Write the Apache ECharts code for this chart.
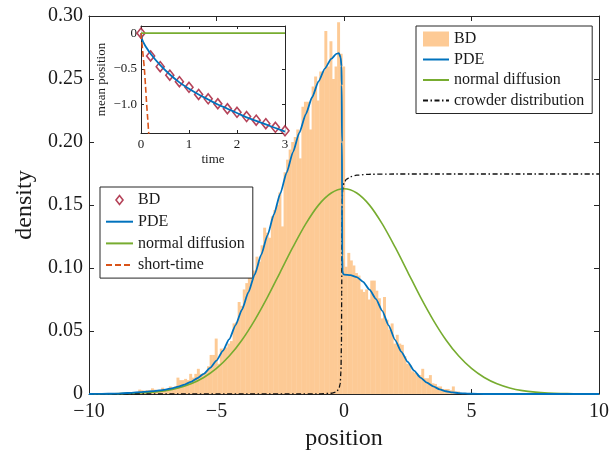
<!DOCTYPE html>
<html><head><meta charset="utf-8">
<script src="https://cdn.jsdelivr.net/npm/echarts@6/dist/echarts.min.js"></script>
<style>html,body{margin:0;padding:0;background:#fff}#c{width:612px;height:459px}</style>
</head><body><div id="c"></div>
<script>
// ---------- DATA ----------
const histStart = -8.17;   // left edge of first bin
const binWidth = 0.1;
const histHeights = [
  0.001,0.0035,0.003,0.0025,0.003,0.003,0.0045,0.0035,0.002,0.003,
  0.005,0.004,0.004,0.006,0.005,0.006,0.013,0.011,0.011,0.012,
  0.011,0.016,0.013,0.016,0.020,0.016,0.016,0.017,0.022,0.031,
  0.031,0.044,0.024,0.036,0.036,0.037,0.040,0.042,0.056,0.057,
  0.073,0.070,0.083,0.088,0.093,0.096,0.098,0.109,0.105,0.118,
  0.132,0.128,0.124,0.141,0.146,0.150,0.160,0.133,0.176,0.186,
  0.194,0.200,0.204,0.210,0.187,0.228,0.232,0.232,0.210,0.244,
  0.252,0.233,0.256,0.256,0.288,0.260,0.280,0.250,0.260,0.295,
  0.270,0.260,
  0.101,0.112,0.106,0.102,0.096,0.094,0.083,0.081,0.083,0.075,
  0.090,0.090,0.082,0.076,0.060,0.077,0.059,0.051,0.056,0.040,
  0.047,0.040,0.039,0.030,0.024,0.023,0.018,0.017,0.015,0.015,
  0.020,0.0125,0.0125,0.015,0.0085,0.008,0.006,0.006,0.004,0.004,
  0.004,0.003,0.006,0.002,0.002
];

const pdeX = [-10,-9.5,-9,-8.5,-8,-7.75,-7.5,-7.25,-7,-6.75,-6.5,-6.25,-6,-5.75,-5.5,-5.25,-5,-4.75,-4.5,-4.25,-4,-3.75,-3.5,-3.25,-3,-2.75,-2.5,-2.25,-2,-1.75,-1.5,-1.25,-1,-0.75,-0.5,-0.3,-0.2,-0.13,-0.1,-0.09,-0.08,-0.075,-0.07,-0.06,-0.04,0,0.25,0.5,0.75,1,1.25,1.5,1.75,2,2.25,2.5,2.75,3,3.25,3.5,3.75,4,4.25,4.5,5,5.5,10];
const pdeY = [0,0.0001,0.0003,0.0008,0.0015,0.0019,0.0023,0.0028,0.0035,0.0045,0.0058,0.0075,0.0097,0.0125,0.016,0.0207,0.0265,0.0343,0.0435,0.0547,0.067,0.0807,0.095,0.1103,0.126,0.1425,0.159,0.1757,0.192,0.2075,0.222,0.2355,0.248,0.2583,0.266,0.270,0.2705,0.267,0.260,0.245,0.200,0.150,0.110,0.098,0.0955,0.0948,0.0943,0.0928,0.089,0.0828,0.0755,0.066,0.0545,0.043,0.0335,0.0255,0.0185,0.013,0.009,0.006,0.0037,0.0022,0.0013,0.0007,0.0002,0,0];

const normX = [-10,-9.5,-9,-8.5,-8,-7.5,-7,-6.5,-6,-5.5,-5,-4.5,-4,-3.5,-3,-2.5,-2,-1.5,-1,-0.5,0,0.5,1,1.5,2,2.5,3,3.5,4,4.5,5,5.5,6,6.5,7,7.5,8,8.5,9,9.5,10];
const normY = [0,0.0001,0.0002,0.0004,0.0008,0.0015,0.0027,0.0048,0.0081,0.0131,0.0203,0.0301,0.0429,0.0587,0.0769,0.0968,0.1167,0.1350,0.1499,0.1595,0.1629,0.1595,0.1499,0.1350,0.1167,0.0968,0.0769,0.0587,0.0429,0.0301,0.0203,0.0131,0.0081,0.0048,0.0027,0.0015,0.0008,0.0004,0.0002,0.0001,0];

const crowdX = [-10,-1,-0.5,-0.3,-0.2,-0.15,-0.12,-0.1,-0.09,-0.08,-0.07,-0.05,0,0.1,0.25,0.5,1,2,10];
const crowdY = [0,0,0.0006,0.0015,0.004,0.008,0.018,0.04,0.08,0.13,0.155,0.163,0.1675,0.1705,0.1725,0.1737,0.1744,0.1746,0.1746];

const insetBDTime = [0,0.2,0.4,0.6,0.8,1.0,1.2,1.4,1.6,1.8,2.0,2.2,2.4,2.6,2.8,3.0];
const insetBDMean = [0,-0.32,-0.47,-0.59,-0.68,-0.76,-0.86,-0.92,-0.99,-1.06,-1.11,-1.17,-1.22,-1.27,-1.32,-1.37];
const insetPdeTime = [0,0.02,0.05,0.1,0.2,0.4,0.6,0.8,1.0,1.2,1.4,1.6,1.8,2.0,2.2,2.4,2.6,2.8,3.0];
const insetPdeMean = [0,-0.08,-0.13,-0.19,-0.29,-0.45,-0.58,-0.69,-0.78,-0.86,-0.93,-1.0,-1.06,-1.12,-1.18,-1.23,-1.28,-1.33,-1.38];
const insetNormTime = [0,3];
const insetNormMean = [0,0];
const shortTime = [0,0.035,0.07,0.095,0.118,0.14,0.17];
const shortMean = [0,-0.25,-0.5,-0.75,-1.0,-1.2,-1.5];

const insetYTicks = [-1,-0.5,0];

// ---------- STYLE ----------
const FONT = '"Liberation Serif","Times New Roman",serif';
const AX = '#262626';
const TXT = '#1a1a1a';
const C_HIST = '#fdca95', C_PDE = '#0072bd', C_NORM = '#77ac30', C_SHORT = '#d95319', C_BD = '#a2142f';

const zip = (a,b) => a.map((v,i)=>[v,b[i]]);
const minus = s => String(s).replace('-', '\u2212');

const histData = histHeights.map((h,i)=>[histStart + i*binWidth, histStart + (i+1)*binWidth, h]);

function axisBase(extra){
  return Object.assign({
    type:'value',
    axisLine:{show:true,onZero:false,lineStyle:{color:AX,width:1}},
    axisTick:{show:true,inside:true,length:5,lineStyle:{color:AX,width:1}},
    splitLine:{show:false},
    axisLabel:{color:TXT,fontFamily:FONT}
  }, extra);
}
const noSym = {opacity:0};

const chart = echarts.init(document.getElementById('c'), null, {renderer:'canvas'});
const option = {
  animation:false,
  backgroundColor:'#fff',
  textStyle:{fontFamily:FONT},
  grid:[
    {left:89, top:16, right:13, bottom:65},
    {left:141, top:26, width:144, height:107, show:true, backgroundColor:'#fff', borderWidth:0}
  ],
  xAxis:[
    axisBase({gridIndex:0,min:-10,max:10,interval:5,
      axisLabel:{color:TXT,fontFamily:FONT,fontSize:20,margin:8,formatter:v=>minus(v)},
      name:'position',nameLocation:'middle',nameGap:31,nameTextStyle:{fontFamily:FONT,fontSize:24,color:TXT}}),
    axisBase({gridIndex:0,min:-10,max:10,interval:5,position:'top',axisLabel:{show:false}}),
    axisBase({gridIndex:1,min:0,max:3,interval:1,
      axisLabel:{color:TXT,fontFamily:FONT,fontSize:13,margin:5},
      axisTick:{show:true,inside:true,length:3,lineStyle:{color:AX}},
      name:'time',nameLocation:'middle',nameGap:20,nameTextStyle:{fontFamily:FONT,fontSize:13,color:TXT}}),
    axisBase({gridIndex:1,min:0,max:3,interval:1,position:'top',axisLabel:{show:false},
      axisTick:{show:true,inside:true,length:3,lineStyle:{color:AX}}})
  ],
  yAxis:[
    axisBase({gridIndex:0,min:0,max:0.3,interval:0.05,
      axisLabel:{color:TXT,fontFamily:FONT,fontSize:20,margin:6,formatter:v=>v===0?'0':v.toFixed(2)},
      name:'density',nameLocation:'middle',nameGap:52,nameTextStyle:{fontFamily:FONT,fontSize:24,color:TXT}}),
    axisBase({gridIndex:0,min:0,max:0.3,interval:0.05,position:'right',axisLabel:{show:false}}),
    axisBase({gridIndex:1,min:-1.4,max:0.1,
      axisLabel:{color:TXT,fontFamily:FONT,fontSize:13,margin:4,customValues:insetYTicks,
        formatter:v=>v===0?'0':minus(v.toFixed(1))},
      axisTick:{show:true,inside:true,length:3,customValues:insetYTicks,lineStyle:{color:AX}},
      name:'mean position',nameLocation:'middle',nameGap:33,nameTextStyle:{fontFamily:FONT,fontSize:13,color:TXT}}),
    axisBase({gridIndex:1,min:-1.4,max:0.1,position:'right',axisLabel:{show:false},
      axisTick:{show:true,inside:true,length:3,customValues:insetYTicks,lineStyle:{color:AX}}})
  ],
  legend:[
    {
      left:416, top:26, orient:'vertical',
      itemWidth:26, itemHeight:15, itemGap:4.5,
      padding:[5,8,5,6],
      borderColor:AX, borderWidth:1, backgroundColor:'#fff',
      textStyle:{fontFamily:FONT,fontSize:16,color:TXT},
      selectedMode:false,
      data:[
        {name:'BD',icon:'rect',itemStyle:{color:C_HIST}},
        {name:'PDE',itemStyle:noSym},
        {name:'normal diffusion',itemStyle:noSym},
        {name:'crowder distribution',itemStyle:noSym}
      ]
    },
    {
      left:100, top:187, orient:'vertical',
      itemWidth:27, itemHeight:12, itemGap:5.7,
      padding:[5,8,5,5],
      borderColor:AX, borderWidth:1, backgroundColor:'#fff',
      textStyle:{fontFamily:FONT,fontSize:16,color:TXT},
      selectedMode:false,
      formatter:n=>n.trim(),
      data:[
        {name:'BD ',icon:'path://M0,0M27,12M13.5,1.5L17,6L13.5,10.5L10,6Z',
          itemStyle:{color:'#fff',borderColor:C_BD,borderWidth:1.6}},
        {name:'PDE ',itemStyle:noSym},
        {name:'normal diffusion ',itemStyle:noSym},
        {name:'short-time',itemStyle:noSym}
      ]
    }
  ],
  series:[
    {
      name:'BD', type:'custom', xAxisIndex:0, yAxisIndex:0,
      itemStyle:{color:C_HIST},
      encode:{x:[0,1],y:2},
      data:histData,
      renderItem:function(params, api){
        const p0 = api.coord([api.value(0), api.value(2)]);
        const p1 = api.coord([api.value(1), 0]);
        return {type:'rect', shape:{x:p0[0], y:p0[1], width:p1[0]-p0[0]+0.4, height:p1[1]-p0[1]},
                style:{fill:C_HIST}};
      },
      z:1
    },
    {
      name:'normal diffusion', type:'line', xAxisIndex:0, yAxisIndex:0,
      data:zip(normX,normY), symbol:'none', smooth:0.3,
      lineStyle:{color:C_NORM,width:1.6}, itemStyle:{color:C_NORM}, z:3
    },
    {
      name:'crowder distribution', type:'line', xAxisIndex:0, yAxisIndex:0,
      data:zip(crowdX,crowdY), symbol:'none', smooth:0.3, smoothMonotone:'x',
      lineStyle:{color:'#111',width:1.3,type:[5,2.5,1.5,2.5]}, itemStyle:{color:'#111'}, z:4
    },
    {
      name:'PDE', type:'line', xAxisIndex:0, yAxisIndex:0,
      data:zip(pdeX,pdeY), symbol:'none', smooth:0.2, smoothMonotone:'x',
      lineStyle:{color:C_PDE,width:1.8}, itemStyle:{color:C_PDE}, z:5
    },
    {
      name:'BD ', type:'scatter', xAxisIndex:2, yAxisIndex:2,
      data:zip(insetBDTime,insetBDMean), symbol:'diamond', symbolSize:[8,10], clip:false,
      itemStyle:{color:'#fff',borderColor:C_BD,borderWidth:1.6}, z:3
    },
    {
      name:'PDE ', type:'line', xAxisIndex:2, yAxisIndex:2,
      data:zip(insetPdeTime,insetPdeMean), symbol:'none', smooth:0.4,
      lineStyle:{color:C_PDE,width:1.8}, itemStyle:{color:C_PDE}, z:4
    },
    {
      name:'normal diffusion ', type:'line', xAxisIndex:2, yAxisIndex:2,
      data:zip(insetNormTime,insetNormMean), symbol:'none',
      lineStyle:{color:C_NORM,width:1.6}, itemStyle:{color:C_NORM}, z:4
    },
    {
      name:'short-time', type:'line', xAxisIndex:2, yAxisIndex:2,
      data:zip(shortTime,shortMean), symbol:'none', smooth:0.3,
      lineStyle:{color:C_SHORT,width:1.6,type:[6,3]}, itemStyle:{color:C_SHORT}, z:4
    }
  ]
};
chart.setOption(option);
</script></body></html>
